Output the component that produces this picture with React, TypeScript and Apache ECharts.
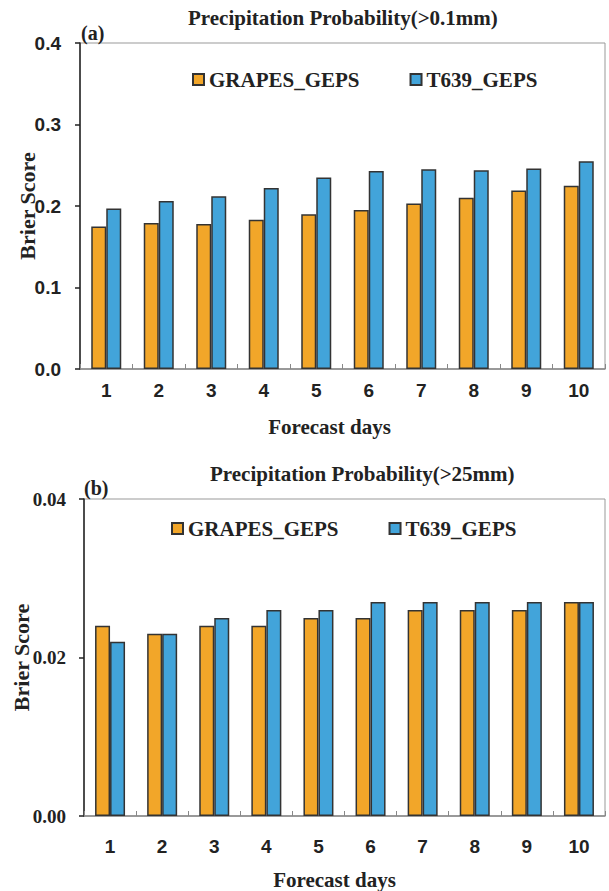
import React, { useEffect, useRef } from "react";
import * as echarts from "echarts";

const days = ["1", "2", "3", "4", "5", "6", "7", "8", "9", "10"];
const seriesNames = ["GRAPES_GEPS", "T639_GEPS"];
const grapesA = [0.175, 0.179, 0.178, 0.183, 0.19, 0.195, 0.203, 0.21, 0.219, 0.225];
const t639A = [0.197, 0.206, 0.212, 0.222, 0.235, 0.243, 0.245, 0.244, 0.246, 0.255];
const grapesB = [0.024, 0.023, 0.024, 0.024, 0.025, 0.025, 0.026, 0.026, 0.026, 0.027];
const t639B = [0.022, 0.023, 0.025, 0.026, 0.026, 0.027, 0.027, 0.027, 0.027, 0.027];
const titleA = "Precipitation Probability(>0.1mm)";
const titleB = "Precipitation Probability(>25mm)";
const xName = "Forecast days";
const yName = "Brier Score";

const SERIF = "'Liberation Serif', 'Times New Roman', serif";
const SANS = "'Liberation Sans', Arial, sans-serif";
const ORANGE = "#F2A629";
const BLUE = "#42A4DA";

export default function App() {
  const ref = useRef<HTMLDivElement>(null);
  useEffect(() => {
    document.body.style.margin = "0";
    const chart = echarts.init(ref.current!, undefined, { renderer: "svg" });
    const xAxisBase = (gridIndex: number, shift: number, labelMargin: number, nameGap: number) => ({
      type: "category",
      gridIndex,
      data: days,
      boundaryGap: true,
      name: xName,
      nameLocation: "middle",
      nameGap,
      nameMoveOverlap: false,
      nameTextStyle: { fontFamily: SERIF, fontWeight: "bold", fontSize: 21, color: "#222", padding: [0, shift, 0, 0] },
      axisLine: { show: true, lineStyle: { color: "#888", width: 1.5 } },
      axisTick: { show: true, inside: true, length: 5, interval: 0, lineStyle: { color: "#888", width: 1 } },
      axisLabel: { fontFamily: SANS, fontWeight: "bold", fontSize: 19, color: "#222", margin: labelMargin },
      splitLine: { show: false },
    });
    const yAxisBase = (gridIndex: number, max: number, interval: number, digits: number, font: string, size: number, gap: number, margin: number) => ({
      type: "value",
      gridIndex,
      min: 0,
      max,
      interval,
      name: yName,
      nameLocation: "middle",
      nameRotate: 90,
      nameGap: gap,
      nameMoveOverlap: false,
      nameTextStyle: { fontFamily: SERIF, fontWeight: "bold", fontSize: 22, color: "#222" },
      axisLine: { show: true, lineStyle: { color: "#222", width: 1.5 } },
      axisTick: { show: true, inside: false, length: 5, lineStyle: { color: "#222", width: 1.5 } },
      axisLabel: {
        fontFamily: font,
        fontWeight: "bold",
        fontSize: size,
        color: "#222",
        margin,
        formatter: (v: number) => v.toFixed(digits),
      },
      splitLine: { show: false },
    });
    const barStyle = (color: string) => ({ color, borderColor: "#333", borderWidth: 1.5 });
    const legendText = { fontFamily: SERIF, fontWeight: "bold", fontSize: 21, color: "#222" };
    chart.setOption({
      animation: false,
      grid: [
        { left: 80, top: 43, width: 525, height: 326, show: true, borderColor: "#999", borderWidth: 1 },
        { left: 84, top: 499, width: 521, height: 317, show: true, borderColor: "#999", borderWidth: 1 },
      ],
      legend: [
        { data: seriesNames, left: 187, top: 64, itemWidth: 11, itemHeight: 11, itemGap: 50, textStyle: legendText, icon: "rect" },
        { data: seriesNames, left: 166, top: 513, itemWidth: 11, itemHeight: 11, itemGap: 50, textStyle: legendText, icon: "rect" },
      ],
      xAxis: [xAxisBase(0, 26, 12, 47), xAxisBase(1, 20, 21, 53)],
      yAxis: [yAxisBase(0, 0.4, 0.1, 1, SANS, 19, 42, 19), yAxisBase(1, 0.04, 0.02, 2, SERIF, 19, 52, 18)],
      series: [
        { name: seriesNames[0], type: "bar", xAxisIndex: 0, yAxisIndex: 0, data: grapesA, barWidth: 15, barGap: "0%", itemStyle: barStyle(ORANGE) },
        { name: seriesNames[1], type: "bar", xAxisIndex: 0, yAxisIndex: 0, data: t639A, barWidth: 15, barGap: "0%", itemStyle: barStyle(BLUE) },
        { name: seriesNames[0], type: "bar", xAxisIndex: 1, yAxisIndex: 1, data: grapesB, barWidth: 15, barGap: "0%", itemStyle: barStyle(ORANGE) },
        { name: seriesNames[1], type: "bar", xAxisIndex: 1, yAxisIndex: 1, data: t639B, barWidth: 15, barGap: "0%", itemStyle: barStyle(BLUE) },
      ],
      graphic: [
        { type: "text", x: 188, y: 7, style: { text: titleA, fontFamily: SERIF, fontWeight: "bold", fontSize: 21, fill: "#222", textAlign: "left" } },
        { type: "text", x: 81, y: 23, style: { text: "(a)", fontFamily: SERIF, fontWeight: "bold", fontSize: 20, fill: "#222" } },
        { type: "text", x: 210, y: 463, style: { text: titleB, fontFamily: SERIF, fontWeight: "bold", fontSize: 21, fill: "#222", textAlign: "left" } },
        { type: "text", x: 84, y: 478, style: { text: "(b)", fontFamily: SERIF, fontWeight: "bold", fontSize: 20, fill: "#222" } },
      ],
    });
    return () => chart.dispose();
  }, []);
  return <div ref={ref} style={{ position: "absolute", left: 0, top: 0, width: 609, height: 891 }} />;
}
